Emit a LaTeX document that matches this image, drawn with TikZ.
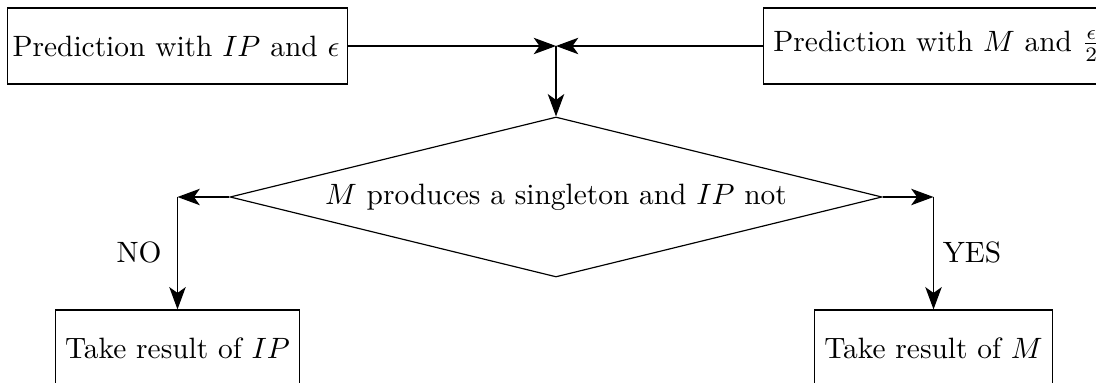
\documentclass[tikz,border=0pt]{standalone}
\usetikzlibrary{arrows.meta,shapes.geometric}
\begin{document}
\begin{tikzpicture}[x=0.34pt,y=-0.34pt,
  box/.style={draw,minimum height=25.84pt,inner sep=3.33pt},
  decision/.style={draw,diamond,aspect=4.075,inner sep=0pt,minimum width=221.7pt,minimum height=54.4pt},
  arr/.style={-{Stealth[length=7.6pt,width=5.6pt,inset=2pt]}},
  lbl/.style={inner sep=0pt}]
\clip (0,0) rectangle (1096,383);
\node[box,anchor=west,inner xsep=1.7pt,minimum width=115.6pt,text width=112.2pt,align=left] (tl) at (7,46) {Prediction with $IP$ and $\epsilon$};
\node[box,anchor=west,minimum width=115pt] (tr) at (763,46) {Prediction with $M$ and $\frac{\epsilon}{2}$};
\node[decision] (dia) at (556,197) {$M$ produces a singleton and $IP$ not};
\node[box,minimum width=80.6pt] (bl) at (177.5,348) {Take result of $IP$};
\node[box,minimum width=79.9pt] (br) at (933.5,348) {Take result of $M$};
\coordinate (m) at (dia.north |- tl.east);
\coordinate (cl) at (dia.west -| bl.north);
\coordinate (cr) at (dia.east -| br.north);
\draw[arr] (tl.east) -- (m);
\draw[arr] (tr.west) -- (m);
\draw[arr] (m) -- (dia.north);
\draw[arr] (dia.west) -- (cl);
\draw[arr] (cl) -- (bl.north);
\draw[arr] (dia.east) -- (cr);
\draw[arr] (cr) -- (br.north);
\node[lbl] (no) at (139,252) {NO};
\node[lbl] (yes) at (972,252) {YES};
\end{tikzpicture}
\end{document}
